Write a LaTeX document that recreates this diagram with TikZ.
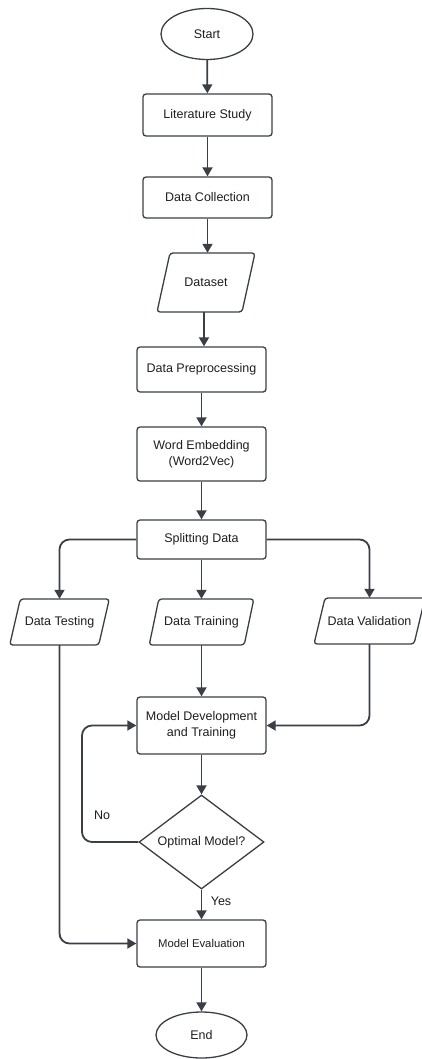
\documentclass[tikz,border=0pt]{standalone}
\usepackage{fontspec}
\setmainfont{Liberation Sans}
\usetikzlibrary{arrows.meta,shapes.geometric,calc}

\definecolor{ink}{HTML}{3A3F47}
\definecolor{txt}{HTML}{1E1E1E}

% parallelogram outline round a named node: #1 node, #2 half width, #3 half height, #4 half slant
\newcommand\iobox[4]{%
  \draw[shapeline, rounded corners=3pt]
    ($(#1.center)+(-#2+#4,-#3)$) -- ($(#1.center)+(#2+#4,-#3)$) --
    ($(#1.center)+(#2-#4,#3)$) -- ($(#1.center)+(-#2-#4,#3)$) -- cycle;}

\begin{document}
\begin{tikzpicture}[x=1pt,y=-1pt,
  font=\fontsize{12.5}{16}\selectfont, text=txt,
  shapeline/.style={draw=ink, line width=1.3pt},
  procbox/.style={shapeline, rectangle, rounded corners=3pt, minimum width=129pt,
    inner sep=0pt, align=center},
  terminal/.style={shapeline, ellipse, inner sep=0pt},
  ionode/.style={rectangle, inner sep=0pt, draw=none, align=center},
  decision/.style={shapeline, diamond, inner sep=0pt, minimum width=125pt,
    minimum height=94pt, aspect=1.33},
  arr/.style={draw=ink, line width=1.8pt, -{Triangle[length=9pt,width=10pt]}},
  lbl/.style={inner sep=0pt}
]
\useasboundingbox (0,0) rectangle (422,1059);

% nodes
\node[terminal, minimum width=92pt, minimum height=51pt] (start) at (207,34) {Start};
\node[procbox, minimum height=42pt] (lit) at (207.5,115) {Literature Study};
\node[procbox, minimum height=41pt] (coll) at (207.5,197.5) {Data Collection};
\node[ionode, minimum width=85pt, minimum height=59pt] (ds) at (206,282.5) {Dataset};
\node[procbox, minimum height=45pt] (prep) at (201.5,369.5) {Data Preprocessing};
\node[procbox, minimum height=54pt] (emb) at (201.5,454) {Word Embedding\\(Word2Vec)};
\node[procbox, minimum height=39pt] (split) at (201.5,539.5) {Splitting Data};
\node[ionode, minimum width=89pt, minimum height=46pt] (test) at (59.5,622) {Data Testing};
\node[ionode, minimum width=95pt, minimum height=46pt] (train) at (201.5,622) {Data Training};
\node[ionode, minimum width=100pt, minimum height=46pt] (valid) at (369.5,621) {Data Validation};
\node[procbox, minimum height=57pt] (dev) at (201.5,725.5) {Model Development\\and Training};
\node[decision] (opt) at (201.5,842) {Optimal Model?};
\node[procbox, minimum height=47pt, font=\fontsize{11.3}{14}\selectfont] (eval) at (201.5,943.5) {Model Evaluation};
\node[terminal, minimum width=91pt, minimum height=46pt] (end) at (201.5,1035) {End};

% parallelogram outlines
\iobox{ds}{42.5}{29.5}{6.5}
\iobox{test}{44.5}{23}{5.3}
\iobox{train}{47.5}{23}{4.8}
\iobox{valid}{50}{23}{5.5}

% labels
\node[lbl] (nolbl) at (102,815) {No};
\node[lbl] (yeslbl) at (221,901) {Yes};

% connectors
\draw[arr] (start) -- (lit);
\draw[arr] (lit) -- (coll);
\draw[arr] (coll.south) -- (coll.south |- ds.north);
\draw[arr] (ds.south -| 204,0) -- (prep.north -| 204,0);
\draw[arr] (prep) -- (emb);
\draw[arr] (emb) -- (split);
\draw[arr] (split) -- (train);
\draw[arr, rounded corners=10pt] (split.west) -| (test.north);
\draw[arr, rounded corners=10pt] (split.east) -| (valid.north);
\draw[arr] (train) -- (dev);
\draw[arr, rounded corners=10pt] (valid.south) |- (dev.east);
\draw[arr, rounded corners=10pt] (test.south) |- (eval.west);
\draw[arr] (dev) -- (opt);
\coordinate (loopturn) at (82,842);
\draw[arr, rounded corners=10pt] (opt.west) -- (loopturn) |- (dev.west);
\draw[arr] (opt) -- (eval);
\draw[arr] (eval) -- (end);
\end{tikzpicture}
\end{document}
